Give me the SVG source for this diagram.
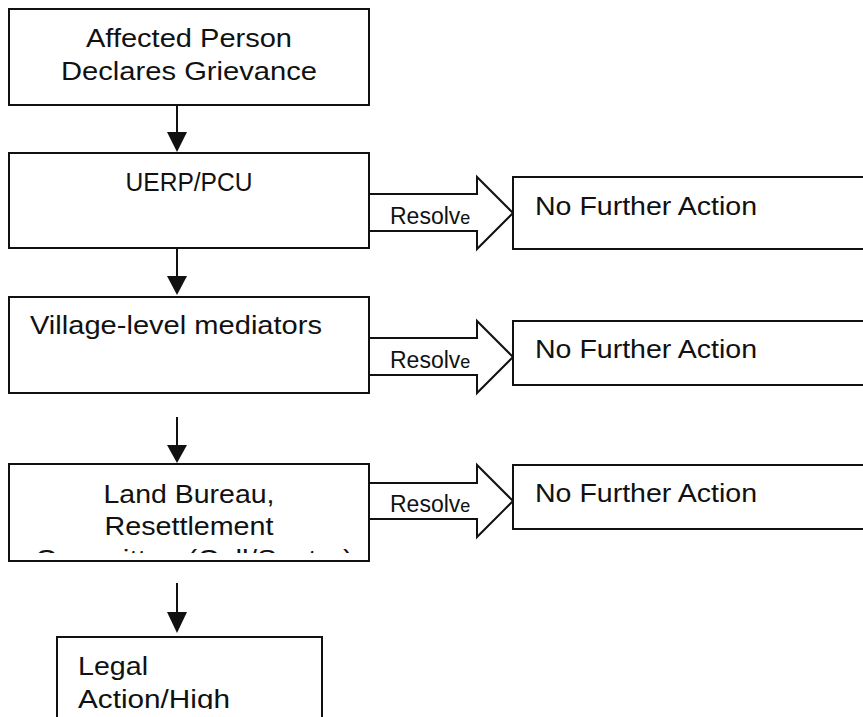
<svg xmlns="http://www.w3.org/2000/svg" width="863" height="717" viewBox="0 0 863 717">
<style>
  .box { fill: #fff; stroke: #111; stroke-width: 2; }
  .blk { fill: #fff; stroke: #111; stroke-width: 2; stroke-linejoin: miter; }
  .t { font-family: "Liberation Sans", Arial, sans-serif; font-size: 26px; fill: #111; }
  .r { font-family: "Liberation Sans", Arial, sans-serif; font-size: 23px; fill: #111; }
  .ln { stroke: #111; stroke-width: 2; fill: none; }
  .hd { fill: #111; stroke: none; }
</style>
<defs>
  <clipPath id="clip4"><rect x="9" y="464" width="360" height="89"/></clipPath>
  <clipPath id="clip5"><rect x="57" y="637" width="265" height="72"/></clipPath>
</defs>
<rect width="863" height="717" fill="#fff"/>

<g id="connectors">
  <line class="ln" x1="177" y1="105" x2="177" y2="133"/>
  <polygon class="hd" points="167,132 187,132 177,152"/>
  <line class="ln" x1="177" y1="248" x2="177" y2="277"/>
  <polygon class="hd" points="167,276 187,276 177,295"/>
  <line class="ln" x1="177" y1="417" x2="177" y2="446"/>
  <polygon class="hd" points="167,445 187,445 177,463"/>
  <line class="ln" x1="177" y1="583" x2="177" y2="613"/>
  <polygon class="hd" points="167,612 187,612 177,633"/>
</g>

<g id="n1">
  <rect class="box" x="9" y="9" width="360" height="96"/>
  <text class="t" x="189" y="47" text-anchor="middle" textLength="206" lengthAdjust="spacingAndGlyphs">Affected Person</text>
  <text class="t" x="189" y="80" text-anchor="middle" textLength="256" lengthAdjust="spacingAndGlyphs">Declares Grievance</text>
</g>

<g id="n2">
  <rect class="box" x="9" y="153" width="360" height="95"/>
  <text class="t" x="189" y="191" text-anchor="middle" textLength="127" lengthAdjust="spacingAndGlyphs">UERP/PCU</text>
</g>

<g id="a2">
  <polygon class="blk" points="369,194 477,194 477,177 513,213 477,249 477,231 369,231"/>
  <text class="r" x="390" y="224">Resolv<tspan font-size="18">e</tspan></text>
</g>
<g id="n2r">
  <rect class="box" x="513" y="177" width="400" height="72"/>
  <text class="t" x="535" y="215" textLength="222" lengthAdjust="spacingAndGlyphs">No Further Action</text>
</g>

<g id="n3">
  <rect class="box" x="9" y="297" width="360" height="96"/>
  <text class="t" x="30" y="334" textLength="292" lengthAdjust="spacingAndGlyphs">Village-level mediators</text>
</g>

<g id="a3">
  <polygon class="blk" points="369,338 477,338 477,321 513,357 477,393 477,375 369,375"/>
  <text class="r" x="390" y="368">Resolv<tspan font-size="18">e</tspan></text>
</g>
<g id="n3r">
  <rect class="box" x="513" y="321" width="400" height="64"/>
  <text class="t" x="535" y="358" textLength="222" lengthAdjust="spacingAndGlyphs">No Further Action</text>
</g>

<g id="n4">
  <rect class="box" x="9" y="464" width="360" height="97"/>
  <text class="t" x="189" y="503" text-anchor="middle" textLength="171" lengthAdjust="spacingAndGlyphs">Land Bureau,</text>
  <text class="t" x="189" y="535" text-anchor="middle" textLength="169" lengthAdjust="spacingAndGlyphs">Resettlement</text>
  <g clip-path="url(#clip4)">
    <text class="t" x="194" y="568" text-anchor="middle" textLength="318" lengthAdjust="spacingAndGlyphs">Committee (Cell/Sector)</text>
  </g>
</g>

<g id="a4">
  <polygon class="blk" points="369,483 477,483 477,465 513,501 477,537 477,519 369,519"/>
  <text class="r" x="390" y="512">Resolv<tspan font-size="18">e</tspan></text>
</g>
<g id="n4r">
  <rect class="box" x="513" y="465" width="400" height="64"/>
  <text class="t" x="535" y="502" textLength="222" lengthAdjust="spacingAndGlyphs">No Further Action</text>
</g>

<g id="n5">
  <rect class="box" x="57" y="637" width="265" height="120"/>
  <g clip-path="url(#clip5)">
    <text class="t" x="78" y="675" textLength="70" lengthAdjust="spacingAndGlyphs">Legal</text>
    <text class="t" x="78" y="708" textLength="152" lengthAdjust="spacingAndGlyphs">Action/High</text>
  </g>
</g>
</svg>
